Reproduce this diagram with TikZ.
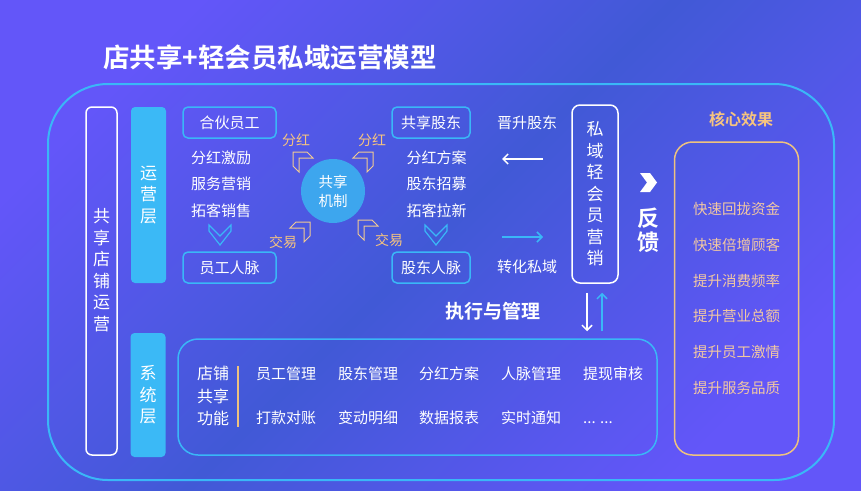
\documentclass[tikz,border=0pt]{standalone}
\usepackage{fontspec}
\setmainfont{Noto Sans CJK SC}[BoldFont={Noto Sans CJK SC Bold}]
\usetikzlibrary{arrows.meta, positioning}

\definecolor{bgpurple}{HTML}{6356F9}
\definecolor{bgblue}{HTML}{4159D6}
\definecolor{cyanline}{HTML}{3AB7F7}
\definecolor{cyanfill}{HTML}{3BB9F6}
\definecolor{poolfill}{HTML}{3DA6EE}
\definecolor{goldline}{HTML}{EEC27F}
\definecolor{goldtext}{HTML}{F6C47F}
\definecolor{peach}{HTML}{F2C8A2}
\newcommand{\moredots}{... ...}

\tikzset{
  cornermark/.pic={\draw[line width=1pt, draw=goldline!85!white, line join=miter]
    (0,0) -- (14,0) -- (20,6) -- (6,6) -- (6,20) -- (0,14) -- cycle;},
  downchev/.pic={\draw[cyanline, line width=1.2pt, line join=miter]
    (-11,-10) -- (0,1) -- (11,-10) -- (11,-4) -- (0,10) -- (-11,-4) -- cycle;}
}

\begin{document}
\begin{tikzpicture}[x=1pt,y=-1pt,>={Straight Barb[length=5pt,width=10pt]},
        txt/.style={text=white, inner sep=0pt, text height=13pt, text depth=2pt, font=\fontsize{15}{15}\selectfont},
        vtxt/.style={text=white, inner sep=0pt, align=center, font=\fontsize{17}{21.5}\selectfont},
        tagbox/.style={draw=cyanline, line width=1.5pt, rounded corners=5pt, minimum width=93pt, minimum height=31pt, text=white, font=\fontsize{15}{15}\selectfont},
        layer/.style={fill=cyanfill, rounded corners=4pt, minimum width=35pt},
        hint/.style={text=goldtext, inner sep=0pt, font=\fontsize{14}{14}\selectfont}]
    \useasboundingbox (0,0) rectangle (861,490);
    \shade[top color=bgpurple, bottom color=bgpurple, middle color=bgblue, shading angle=45] (0,0) rectangle (861,490);

    % title and frame
    \node[anchor=west, inner sep=0pt, text=white, font=\bfseries\fontsize{26.5}{26.5}\selectfont] (title) at (103,57) {店共享+轻会员私域运营模型};
    \draw[cyanline, line width=2pt, rounded corners=60pt] (48,84) rectangle (834,480);

    % left side
    \node[draw=white, line width=1.5pt, rounded corners=6pt, minimum width=31pt, minimum height=348pt] (shopbox) at (101.5,281) {};
    \node[vtxt] (shoptag) at (101.5,270) {共\\享\\店\\铺\\运\\营};
    \node[layer, vtxt, minimum height=176pt] (oplayer) at (148.5,195) {运\\营\\层};
    \node[layer, vtxt, minimum height=124pt] (syslayer) at (148,395) {系\\统\\层};

    % staff column
    \node[tagbox] (partner) at (229.5,122.5) {合伙员工};
    \foreach \t [count=\i] in {分红激励,服务营销,拓客销售}
        \node[txt] (pa\i) at (221,131+26.5*\i) {\t};
    \pic at (220,235) {downchev};
    \node[tagbox] (staffnet) at (229.5,267.5) {员工人脉};

    % sharing mechanism
    \node[circle, fill=poolfill, minimum size=64pt, inner sep=0pt, align=center, text=white, font=\fontsize{14.5}{19}\selectfont] (pool) at (333,191) {共享\\机制};
    \node[hint] (divA) at (296,140) {分红};
    \node[hint] (divB) at (372,140) {分红};
    \node[hint] (tradeA) at (283,242) {交易};
    \node[hint] (tradeB) at (389,240) {交易};
    \pic at (293,152) {cornermark};
    \pic[xscale=-1] at (373,152) {cornermark};
    \pic[xscale=-1] at (310,222) {cornermark};
    \pic at (358,220) {cornermark};

    % shareholder column
    \node[tagbox, minimum width=78pt] (holder) at (431,122.5) {共享股东};
    \foreach \t [count=\i] in {分红方案,股东招募,拓客拉新}
        \node[txt] (ha\i) at (436.5,131+26.5*\i) {\t};
    \pic at (436,235) {downchev};
    \node[tagbox, minimum width=78pt] (holdernet) at (431,267.5) {股东人脉};

    \node[txt] (promote) at (527,123) {晋升股东};
    \node[txt] (convert) at (527,267) {转化私域};
    \coordinate (backA) at (543,159);
    \coordinate (backB) at (502,159);
    \coordinate (fwdA) at (502,237);
    \coordinate (fwdB) at (543,237);
    \draw[->, white, line width=1.5pt] (backA) -- (backB);
    \draw[->, cyanline, line width=1.5pt] (fwdA) -- (fwdB);

    % private domain
    \node[draw=white, line width=1.5pt, rounded corners=8pt, minimum width=46pt, minimum height=178pt, vtxt] (privbox) at (595,194) {私\\域\\轻\\会\\员\\营\\销};
    \fill[white] (640,173) -- (650,173) -- (657,182.5) -- (650,192) -- (640,192) -- (647,182.5) -- cycle;
    \node[vtxt, font=\bfseries\fontsize{22}{24}\selectfont] (feedback) at (648,230) {反\\馈};

    % effects
    \node[text=goldtext, inner sep=0pt, font=\bfseries\fontsize{16}{16}\selectfont] (coretitle) at (741,119) {核心效果};
    \node[draw=goldline, line width=1.5pt, rounded corners=18pt, minimum width=124pt, minimum height=313pt, text=peach, align=center, font=\fontsize{14.5}{35.8}\selectfont] (effects) at (736.5,298.5) {快速回拢资金\\快速倍增顾客\\提升消费频率\\提升营业总额\\提升员工激情\\提升服务品质};

    % system layer
    \node[text=white, inner sep=0pt, font=\bfseries\fontsize{19}{19}\selectfont] (exec) at (493,311) {执行与管理};
    \node[draw=cyanline, line width=1.5pt, rounded corners=20pt, minimum width=479pt, minimum height=116pt] (sysbox) at (417.5,397) {};
    \node[txt, align=center, text height=, text depth=, font=\fontsize{16}{22.5}\selectfont] (funcs) at (213,396) {店铺\\共享\\功能};
    \draw[goldline, line width=1.5pt] (238,366) -- (238,427);
    \foreach \t/\x [count=\i] in {员工管理/256,股东管理/338,分红方案/419,人脉管理/501,提现审核/583}
        \node[txt, anchor=west] (fa\i) at (\x,374) {\t};
    \foreach \t/\x [count=\i] in {打款对账/256,变动明细/338,数据报表/419,实时通知/501,\moredots/583}
        \node[txt, anchor=west] (fb\i) at (\x,418) {\t};

    \coordinate (dnTop) at ([xshift=-8pt]privbox.south);
    \coordinate (dnEnd) at (dnTop |- sysbox.north);
    \coordinate (upTop) at ([xshift=7pt]privbox.south);
    \coordinate (upEnd) at (upTop |- sysbox.north);
    \draw[->, white, line width=1.5pt, shorten <=9pt, shorten >=7pt] (dnTop) -- (dnEnd);
    \draw[->, cyanline, line width=1.5pt, shorten <=7pt, shorten >=9pt] (upEnd) -- (upTop);
\end{tikzpicture}
\end{document}
